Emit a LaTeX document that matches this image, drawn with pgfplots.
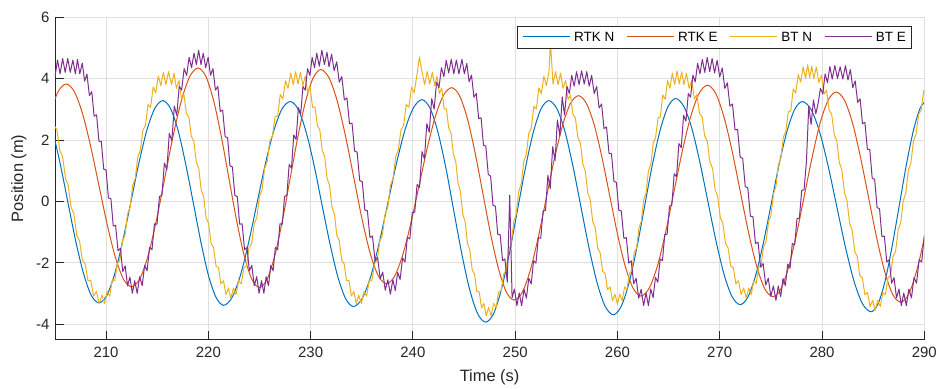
\documentclass[border=0pt]{standalone}
\usepackage{fontspec}
\setmainfont{Liberation Sans}
\usepackage{pgfplots}
\pgfplotsset{compat=1.18}
\definecolor{mB}{rgb}{0,0.447,0.741}
\definecolor{mO}{rgb}{0.850,0.325,0.098}
\definecolor{mY}{rgb}{0.929,0.694,0.125}
\definecolor{mP}{rgb}{0.494,0.184,0.556}
\definecolor{axgray}{rgb}{0.15,0.15,0.15}
\definecolor{gridgray}{rgb}{0.875,0.875,0.875}
\newcommand{\legline}[1]{\textcolor{#1}{\rule[0.33em]{47bp}{1bp}}\hspace{4bp}}
\begin{document}
\begin{tikzpicture}
\begin{axis}[
  scale only axis, width=870bp, height=323bp,
  xmin=205, xmax=290, ymin=-4.5, ymax=6,
  xtick={210,220,...,290}, ytick={-4,-2,...,6},
  axis x line*=bottom, axis y line*=left,
  axis line style={draw=axgray, line width=0.8bp},
  tick align=inside, major tick length=8.7bp,
  tick style={draw=axgray, line width=0.8bp},
  grid=major, major grid style={draw=gridgray, line width=0.8bp},
  /pgf/number format/assume math mode=true,
  ticklabel style={font=\fontsize{15}{18}\selectfont, text=axgray},
  xticklabel style={yshift=-4bp},
  yticklabel style={xshift=-2bp},
  xlabel={Time (s)}, ylabel={Position (m)},
  label style={font=\fontsize{16.5}{19}\selectfont, text=axgray},
  xlabel style={at={(axis description cs:0.5,-0.1176)}, anchor=center},
  ylabel style={at={(axis description cs:-0.0414,0.5)}, anchor=center},
  legend style={at={(1,1)}, anchor=north east, xshift=-12bp, yshift=-9bp, draw=axgray, line width=0.8bp, fill=white, font=\fontsize{13.5}{16}\selectfont, inner xsep=4bp, inner ysep=3.5bp, /tikz/every even column/.append style={column sep=9bp}},
  legend columns=4, legend cell align=left,
  legend image code/.code={},
  every axis plot/.append style={line width=1bp, line join=round},
]
\addplot[color=mB, smooth] coordinates {
(203.20,3.30) (203.96,3.05) (204.73,2.33) (205.49,1.26) (206.25,0.00) (207.01,-1.26) (207.78,-2.33) (208.54,-3.05) (209.30,-3.30)
(210.08,-3.05) (210.86,-2.34) (211.64,-1.27) (212.43,-0.01) (213.21,1.25) (213.99,2.32) (214.77,3.03) (215.55,3.28)
(216.29,3.03) (217.04,2.31) (217.78,1.22) (218.53,-0.05) (219.27,-1.32) (220.01,-2.41) (220.76,-3.13) (221.50,-3.38)
(222.31,-3.13) (223.13,-2.41) (223.94,-1.33) (224.75,-0.07) (225.56,1.20) (226.38,2.28) (227.19,3.00) (228.00,3.25)
(228.78,3.00) (229.55,2.27) (230.33,1.19) (231.10,-0.09) (231.88,-1.36) (232.65,-2.44) (233.43,-3.17) (234.20,-3.42)
(235.04,-3.16) (235.88,-2.44) (236.71,-1.34) (237.55,-0.06) (238.39,1.23) (239.23,2.33) (240.06,3.05) (240.90,3.31)
(241.68,3.03) (242.45,2.25) (243.23,1.08) (244.00,-0.31) (244.78,-1.70) (245.55,-2.87) (246.33,-3.65) (247.10,-3.93)
(247.88,-3.66) (248.65,-2.87) (249.43,-1.70) (250.20,-0.33) (250.98,1.05) (251.75,2.22) (252.53,3.01) (253.30,3.28)
(254.09,3.01) (254.88,2.26) (255.66,1.13) (256.45,-0.21) (257.24,-1.54) (258.03,-2.67) (258.81,-3.42) (259.60,-3.69)
(260.36,-3.42) (261.13,-2.66) (261.89,-1.52) (262.65,-0.17) (263.41,1.18) (264.18,2.32) (264.94,3.08) (265.70,3.35)
(266.49,3.09) (267.28,2.37) (268.06,1.28) (268.85,-0.01) (269.64,-1.29) (270.43,-2.38) (271.21,-3.10) (272.00,-3.36)
(272.76,-3.11) (273.53,-2.39) (274.29,-1.32) (275.05,-0.06) (275.81,1.21) (276.58,2.28) (277.34,3.00) (278.10,3.25)
(278.94,2.99) (279.78,2.25) (280.61,1.14) (281.45,-0.17) (282.29,-1.48) (283.13,-2.59) (283.96,-3.33) (284.80,-3.59)
(285.49,-3.33) (286.18,-2.58) (286.86,-1.46) (287.55,-0.15) (288.24,1.17) (288.93,2.29) (289.61,3.04) (290.30,3.30)
};
\addlegendentry{\legline{mB}RTK N}
\addplot[color=mO, smooth] coordinates {
(199.80,-2.80) (200.59,-2.55) (201.38,-1.83) (202.16,-0.76) (202.95,0.51) (203.74,1.78) (204.53,2.85) (205.31,3.57) (206.10,3.82)
(206.90,3.57) (207.70,2.85) (208.50,1.78) (209.30,0.52) (210.10,-0.74) (210.90,-1.81) (211.70,-2.53) (212.50,-2.78)
(213.31,-2.51) (214.13,-1.74) (214.94,-0.58) (215.75,0.78) (216.56,2.14) (217.38,3.30) (218.19,4.07) (219.00,4.34)
(219.75,4.07) (220.50,3.30) (221.25,2.14) (222.00,0.77) (222.75,-0.60) (223.50,-1.76) (224.25,-2.53) (225.00,-2.80)
(225.75,-2.53) (226.50,-1.76) (227.25,-0.61) (228.00,0.75) (228.75,2.10) (229.50,3.25) (230.25,4.02) (231.00,4.29)
(231.80,4.02) (232.60,3.27) (233.40,2.14) (234.20,0.81) (235.00,-0.53) (235.80,-1.66) (236.60,-2.41) (237.40,-2.68)
(238.20,-2.44) (239.00,-1.75) (239.80,-0.71) (240.60,0.51) (241.40,1.73) (242.20,2.77) (243.00,3.46) (243.80,3.70)
(244.56,3.44) (245.33,2.69) (246.09,1.57) (246.85,0.25) (247.61,-1.08) (248.38,-2.20) (249.14,-2.95) (249.90,-3.21)
(250.69,-2.96) (251.48,-2.24) (252.26,-1.16) (253.05,0.12) (253.84,1.39) (254.63,2.47) (255.41,3.19) (256.20,3.44)
(256.96,3.19) (257.73,2.49) (258.49,1.43) (259.25,0.18) (260.01,-1.07) (260.78,-2.13) (261.54,-2.83) (262.30,-3.08)
(263.11,-2.82) (263.93,-2.08) (264.74,-0.96) (265.55,0.35) (266.36,1.66) (267.18,2.78) (267.99,3.52) (268.80,3.78)
(269.60,3.52) (270.40,2.77) (271.20,1.66) (272.00,0.34) (272.80,-0.98) (273.60,-2.09) (274.40,-2.84) (275.20,-3.10)
(275.98,-2.85) (276.75,-2.13) (277.53,-1.04) (278.30,0.23) (279.08,1.50) (279.85,2.59) (280.63,3.31) (281.40,3.56)
(282.19,3.30) (282.98,2.56) (283.76,1.45) (284.55,0.14) (285.34,-1.17) (286.13,-2.28) (286.91,-3.02) (287.70,-3.28)
(288.48,-3.02) (289.25,-2.27) (290.03,-1.16) (290.80,0.16)
};
\addlegendentry{\legline{mO}RTK E}
\addplot[color=mY] coordinates {
(203.00,4.20) (203.28,3.77) (203.55,4.08) (203.83,3.53) (204.10,3.72) (204.38,3.06) (204.65,3.07) (204.93,2.47) (205.20,2.32) (205.48,1.66) (205.75,1.45) (206.03,0.75) (206.30,0.52) (206.58,-0.19) (206.85,-0.41) (207.13,-1.10) (207.40,-1.28) (207.68,-1.91) (207.95,-2.03) (208.23,-2.58) (208.50,-2.57) (208.78,-3.08) (209.05,-2.93) (209.33,-3.32) (209.60,-3.05)
(209.85,-3.32) (210.10,-2.93) (210.35,-3.08) (210.60,-2.57) (210.85,-2.58) (211.10,-2.03) (211.35,-1.91) (211.60,-1.28) (211.85,-1.10) (212.10,-0.41) (212.35,-0.19) (212.60,0.52) (212.85,0.75) (213.10,1.45) (213.35,1.66) (213.60,2.32) (213.85,2.47) (214.10,3.15) (214.35,3.06) (214.60,3.72) (214.85,3.53) (215.10,4.08) (215.35,3.77) (215.60,4.20) (215.85,3.80) (216.10,4.22)
(216.40,3.80) (216.64,4.17) (216.88,3.68) (217.13,3.93) (217.37,3.33) (217.61,3.48) (217.85,2.86) (218.09,2.75) (218.33,2.13) (218.58,1.96) (218.82,1.29) (219.06,1.08) (219.30,0.38) (219.54,0.16) (219.78,-0.53) (220.03,-0.72) (220.27,-1.37) (220.51,-1.51) (220.75,-2.10) (220.99,-2.16) (221.23,-2.68) (221.48,-2.58) (221.72,-3.03) (221.96,-2.82) (222.20,-3.15)
(222.45,-2.82) (222.71,-3.03) (222.96,-2.58) (223.22,-2.68) (223.47,-2.16) (223.73,-2.10) (223.98,-1.51) (224.23,-1.37) (224.49,-0.72) (224.74,-0.53) (225.00,0.16) (225.25,0.38) (225.50,1.08) (225.76,1.29) (226.01,1.96) (226.27,2.13) (226.52,2.75) (226.78,2.78) (227.03,3.48) (227.28,3.33) (227.54,3.93) (227.79,3.68) (228.05,4.17) (228.30,3.80) (228.53,4.22) (228.77,3.82)
(229.00,4.20) (229.24,3.77) (229.48,4.08) (229.71,3.53) (229.95,3.72) (230.19,3.06) (230.43,3.07) (230.66,2.47) (230.90,2.32) (231.14,1.66) (231.38,1.45) (231.61,0.75) (231.85,0.52) (232.09,-0.19) (232.33,-0.41) (232.56,-1.10) (232.80,-1.28) (233.04,-1.91) (233.28,-2.03) (233.51,-2.58) (233.75,-2.57) (233.99,-3.08) (234.23,-2.93) (234.46,-3.32) (234.70,-3.05)
(234.96,-3.32) (235.22,-2.93) (235.48,-3.08) (235.73,-2.57) (235.99,-2.58) (236.25,-2.03) (236.51,-1.91) (236.77,-1.28) (237.02,-1.10) (237.28,-0.41) (237.54,-0.19) (237.80,0.52) (238.06,0.75) (238.32,1.45) (238.57,1.66) (238.83,2.32) (239.09,2.47) (239.35,3.15) (239.61,3.06) (239.87,3.72) (240.12,3.53) (240.38,4.08) (240.64,4.70) (240.90,4.20) (241.15,3.80) (241.40,4.22) (241.65,3.82)
(241.90,4.20) (242.13,3.77) (242.36,4.07) (242.59,3.51) (242.82,3.69) (243.05,3.01) (243.28,3.01) (243.50,2.39) (243.73,2.22) (243.96,1.53) (244.19,1.30) (244.42,0.58) (244.65,0.32) (244.88,-0.42) (245.11,-0.66) (245.34,-1.37) (245.57,-1.58) (245.80,-2.23) (246.03,-2.37) (246.25,-2.93) (246.48,-2.94) (246.71,-3.46) (246.94,-3.32) (247.17,-3.72) (247.40,-3.45)
(247.65,-3.72) (247.89,-3.32) (248.14,-3.46) (248.38,-2.94) (248.63,-2.93) (248.87,-2.37) (249.12,-2.23) (249.37,-1.58) (249.61,-1.37) (249.86,-0.66) (250.10,-0.42) (250.35,0.32) (250.60,0.58) (250.84,1.30) (251.09,1.53) (251.33,2.22) (251.58,2.39) (251.82,3.09) (252.07,3.01) (252.32,3.69) (252.56,3.51) (252.81,4.07) (253.05,3.77) (253.30,4.20) (253.45,5.20) (253.70,3.82) (253.95,4.22)
(254.20,3.80) (254.44,4.17) (254.68,3.68) (254.93,3.93) (255.17,3.32) (255.41,3.46) (255.65,2.83) (255.89,2.71) (256.13,2.08) (256.38,1.90) (256.62,1.21) (256.86,0.99) (257.10,0.28) (257.34,0.05) (257.58,-0.65) (257.83,-0.86) (258.07,-1.52) (258.31,-1.67) (258.55,-2.27) (258.79,-2.34) (259.03,-2.87) (259.28,-2.78) (259.52,-3.23) (259.76,-3.02) (260.00,-3.35)
(260.23,-3.02) (260.47,-3.23) (260.70,-2.78) (260.93,-2.87) (261.17,-2.34) (261.40,-2.27) (261.63,-1.67) (261.87,-1.52) (262.10,-0.86) (262.33,-0.65) (262.57,0.05) (262.80,0.28) (263.03,0.99) (263.27,1.21) (263.50,1.90) (263.73,2.08) (263.97,2.71) (264.20,2.75) (264.43,3.46) (264.67,3.32) (264.90,3.93) (265.13,3.68) (265.37,4.17) (265.60,3.80) (265.83,4.24) (266.05,3.82) (266.28,4.22)
(266.50,3.80) (266.75,4.17) (267.01,3.68) (267.26,3.93) (267.52,3.33) (267.77,3.48) (268.03,2.86) (268.28,2.75) (268.53,2.13) (268.79,1.96) (269.04,1.29) (269.30,1.08) (269.55,0.38) (269.80,0.16) (270.06,-0.53) (270.31,-0.72) (270.57,-1.37) (270.82,-1.51) (271.08,-2.10) (271.33,-2.16) (271.58,-2.68) (271.84,-2.58) (272.09,-3.03) (272.35,-2.82) (272.60,-3.15)
(272.84,-2.82) (273.08,-3.03) (273.33,-2.58) (273.57,-2.67) (273.81,-2.14) (274.05,-2.07) (274.29,-1.47) (274.53,-1.32) (274.78,-0.66) (275.02,-0.45) (275.26,0.25) (275.50,0.48) (275.74,1.19) (275.98,1.41) (276.23,2.10) (276.47,2.28) (276.71,2.91) (276.95,2.95) (277.19,3.66) (277.43,3.52) (277.68,4.13) (277.92,3.88) (278.16,4.37) (278.40,4.00) (278.60,4.45) (278.80,4.02) (279.00,4.40)
(279.20,4.00) (279.45,4.37) (279.70,3.87) (279.95,4.11) (280.20,3.49) (280.45,3.61) (280.70,2.97) (280.95,2.83) (281.20,2.18) (281.45,1.97) (281.70,1.26) (281.95,1.02) (282.20,0.28) (282.45,0.02) (282.70,-0.70) (282.95,-0.93) (283.20,-1.62) (283.45,-1.79) (283.70,-2.41) (283.95,-2.49) (284.20,-3.04) (284.45,-2.96) (284.70,-3.42) (284.95,-3.22) (285.20,-3.55)
(285.45,-3.22) (285.70,-3.42) (285.95,-2.96) (286.20,-3.04) (286.45,-2.49) (286.70,-2.41) (286.95,-1.79) (287.20,-1.62) (287.45,-0.93) (287.70,-0.70) (287.95,0.02) (288.20,0.28) (288.45,1.02) (288.70,1.26) (288.95,1.97) (289.20,2.18) (289.45,2.83) (289.70,2.97) (289.95,3.61) (290.20,3.49)
};
\addlegendentry{\legline{mY}BT N}
\addplot[color=mP] coordinates {
(204.50,4.10) (204.75,4.55) (205.00,4.05) (205.25,4.60) (205.50,4.15) (205.75,4.65) (206.00,4.20) (206.25,4.65) (206.50,4.20) (206.75,4.60) (207.00,4.15)
(207.20,4.62) (207.43,4.15) (207.67,4.50) (207.90,3.91) (208.13,4.14) (208.37,3.44) (208.60,3.57) (208.83,2.77) (209.07,2.82) (209.30,1.96) (209.53,1.95) (209.77,1.05) (210.00,1.02) (210.23,0.11) (210.47,0.09) (210.70,-0.80) (210.93,-0.78) (211.17,-1.61) (211.40,-1.53) (211.63,-2.28) (211.87,-2.10) (212.10,-2.75) (212.33,-2.46) (212.57,-2.99) (212.80,-2.58)
(213.04,-2.99) (213.28,-2.45) (213.53,-2.74) (213.77,-2.08) (214.01,-2.26) (214.25,-1.50) (214.49,-1.57) (214.73,-0.73) (214.98,-0.74) (215.22,0.16) (215.46,0.20) (215.70,1.25) (215.94,1.03) (216.18,2.21) (216.43,1.97) (216.67,3.10) (216.91,2.80) (217.15,3.74) (217.39,3.62) (217.63,4.32) (217.88,4.10) (218.12,4.69) (218.36,4.35) (218.60,4.82) (218.83,4.45) (219.05,4.92) (219.28,4.45)
(219.50,4.82) (219.74,4.35) (219.98,4.69) (220.21,4.10) (220.45,4.32) (220.69,3.62) (220.93,3.74) (221.16,2.93) (221.40,2.97) (221.64,2.10) (221.88,2.08) (222.11,1.16) (222.35,1.12) (222.59,0.20) (222.83,0.16) (223.06,-0.74) (223.30,-0.73) (223.54,-1.57) (223.78,-1.50) (224.01,-2.26) (224.25,-2.08) (224.49,-2.74) (224.73,-2.45) (224.96,-2.99) (225.20,-2.58)
(225.43,-2.99) (225.65,-2.45) (225.88,-2.74) (226.10,-2.08) (226.33,-2.26) (226.55,-1.50) (226.78,-1.57) (227.00,-0.73) (227.23,-0.74) (227.45,0.16) (227.68,0.20) (227.90,1.20) (228.13,1.08) (228.35,2.16) (228.58,2.02) (228.80,3.05) (229.03,2.85) (229.25,3.74) (229.48,3.62) (229.70,4.32) (229.93,4.10) (230.15,4.69) (230.38,4.35) (230.60,4.82) (230.85,4.40) (231.10,4.92) (231.35,4.45) (231.60,4.85)
(231.80,4.38) (232.05,4.79) (232.30,4.25) (232.55,4.54) (232.80,3.88) (233.05,4.06) (233.30,3.30) (233.55,3.37) (233.80,2.53) (234.05,2.54) (234.30,1.64) (234.55,1.60) (234.80,0.68) (235.05,0.64) (235.30,-0.28) (235.55,-0.30) (235.80,-1.17) (236.05,-1.13) (236.30,-1.94) (236.55,-1.82) (236.80,-2.52) (237.05,-2.30) (237.30,-2.89) (237.55,-2.55) (237.80,-3.02)
(238.04,-2.55) (238.28,-2.90) (238.51,-2.31) (238.75,-2.54) (238.99,-1.84) (239.23,-1.97) (239.46,-1.17) (239.70,-1.22) (239.94,-0.36) (240.18,-0.35) (240.41,0.55) (240.65,0.45) (240.89,1.62) (241.13,1.38) (241.36,2.53) (241.60,2.25) (241.84,3.34) (242.08,3.00) (242.31,3.88) (242.55,3.70) (242.79,4.35) (243.03,4.06) (243.26,4.59) (243.50,4.18) (243.75,4.62) (244.00,4.15) (244.25,4.60) (244.50,4.15)
(244.80,4.62) (245.03,4.15) (245.27,4.49) (245.50,3.89) (245.73,4.11) (245.97,3.39) (246.20,3.51) (246.43,2.69) (246.67,2.72) (246.90,1.83) (247.13,1.80) (247.37,0.88) (247.60,0.82) (247.83,-0.12) (248.07,-0.16) (248.30,-1.07) (248.53,-1.08) (248.77,-1.93) (249.00,-1.87) (249.23,-2.63) (249.47,0.20) (249.70,-3.13) (249.93,-2.85) (250.17,-3.39) (250.40,-2.98)
(250.63,-3.39) (250.87,-2.86) (251.10,-3.15) (251.33,-2.50) (251.57,-2.68) (251.80,-1.93) (252.03,-2.01) (252.27,-1.18) (252.50,-1.20) (252.73,-0.31) (252.97,-0.29) (253.20,0.85) (253.43,0.42) (253.67,1.78) (253.90,1.33) (254.13,2.65) (254.37,2.14) (254.60,3.40) (254.83,2.81) (255.07,3.74) (255.30,3.51) (255.53,4.10) (255.77,3.75) (256.00,4.22) (256.25,3.80) (256.50,4.25) (256.75,3.82)
(257.00,4.22) (257.24,3.75) (257.48,4.10) (257.73,3.51) (257.97,3.74) (258.21,3.04) (258.45,3.17) (258.69,2.37) (258.93,2.42) (259.18,1.56) (259.42,1.55) (259.66,0.65) (259.90,0.62) (260.14,-0.29) (260.38,-0.31) (260.63,-1.20) (260.87,-1.18) (261.11,-2.01) (261.35,-1.93) (261.59,-2.68) (261.83,-2.50) (262.08,-3.15) (262.32,-2.86) (262.56,-3.39) (262.80,-2.98)
(263.03,-3.39) (263.26,-2.85) (263.49,-3.13) (263.72,-2.47) (263.95,-2.63) (264.18,-1.87) (264.40,-1.93) (264.63,-1.08) (264.86,-1.07) (265.09,-0.16) (265.32,-0.12) (265.55,0.90) (265.78,0.80) (266.01,1.88) (266.24,1.75) (266.47,2.80) (266.70,2.61) (266.93,3.51) (267.15,3.39) (267.38,4.11) (267.61,3.89) (267.84,4.49) (268.07,4.15) (268.30,4.62) (268.54,4.20) (268.78,4.68) (269.02,4.22) (269.26,4.65)
(269.50,4.18) (269.75,4.59) (270.00,4.05) (270.25,4.34) (270.50,3.68) (270.75,3.86) (271.00,3.10) (271.25,3.17) (271.50,2.33) (271.75,2.34) (272.00,1.44) (272.25,1.40) (272.50,0.48) (272.75,0.44) (273.00,-0.48) (273.25,-0.50) (273.50,-1.37) (273.75,-1.33) (274.00,-2.14) (274.25,-2.02) (274.50,-2.72) (274.75,-2.50) (275.00,-3.09) (275.25,-2.75) (275.50,-3.22)
(275.73,-2.75) (275.96,-3.10) (276.19,-2.51) (276.42,-2.74) (276.65,-2.04) (276.88,-2.17) (277.10,-1.37) (277.33,-1.42) (277.56,-0.56) (277.79,-0.55) (278.02,0.35) (278.25,0.38) (278.48,1.29) (278.71,3.10) (278.94,2.50) (279.17,3.30) (279.40,2.85) (279.63,3.20) (279.85,3.68) (280.08,3.50) (280.31,4.15) (280.54,3.86) (280.77,4.39) (281.00,3.98) (281.26,4.42) (281.52,4.00) (281.78,4.38) (282.04,3.98)
(282.30,4.42) (282.54,3.95) (282.78,4.29) (283.01,3.70) (283.25,3.92) (283.49,3.22) (283.73,3.34) (283.96,2.53) (284.20,2.57) (284.44,1.70) (284.68,1.68) (284.91,0.76) (285.15,0.72) (285.39,-0.20) (285.63,-0.24) (285.86,-1.14) (286.10,-1.13) (286.34,-1.97) (286.58,-1.90) (286.81,-2.66) (287.05,-2.48) (287.29,-3.14) (287.53,-2.85) (287.76,-3.39) (288.00,-2.98)
(288.25,-3.39) (288.50,-2.85) (288.75,-3.14) (289.00,-2.48) (289.25,-2.66) (289.50,-1.90) (289.75,-1.97) (290.00,-1.13) (290.25,-1.14)
};
\addlegendentry{\legline{mP}BT E}
\end{axis}
\path[use as bounding box] ([xshift=-55bp,yshift=-47bp]current axis.south west) rectangle ([xshift=15bp,yshift=17bp]current axis.north east);
\end{tikzpicture}
\end{document}
